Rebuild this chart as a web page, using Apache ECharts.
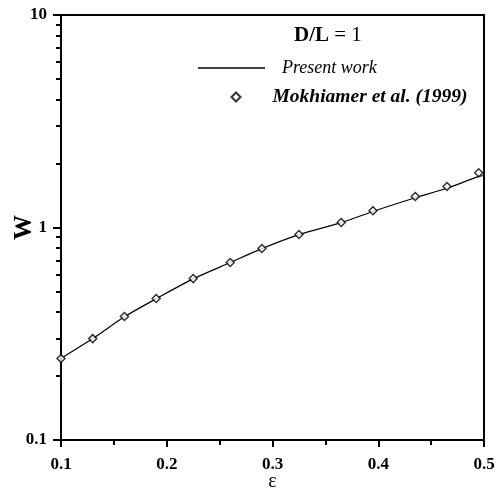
<!DOCTYPE html>
<html><head><meta charset="utf-8">
<script src="https://cdn.jsdelivr.net/npm/echarts@6/dist/echarts.min.js"></script>
<style>html,body{margin:0;padding:0;background:#fff}#c{width:501px;height:495px}</style>
</head><body><div id="c"></div>
<script>
// Present work (curve)
const lineEps = [0.1, 0.13, 0.16, 0.19, 0.225, 0.26, 0.29, 0.325, 0.365, 0.395, 0.435, 0.465, 0.495, 0.5];
const lineW   = [0.242, 0.30, 0.38, 0.462, 0.573, 0.684, 0.795, 0.925, 1.055, 1.19, 1.38, 1.53, 1.74, 1.757];
// Mokhiamer et al. (1999) (markers)
const refEps = [0.1, 0.13, 0.16, 0.19, 0.225, 0.26, 0.29, 0.325, 0.365, 0.395, 0.435, 0.465, 0.495];
const refW   = [0.242, 0.30, 0.381, 0.463, 0.575, 0.684, 0.797, 0.927, 1.056, 1.20, 1.40, 1.56, 1.81];
const xTicks = [0.1, 0.2, 0.3, 0.4, 0.5];
const yMinorTicks = [0.2,0.3,0.4,0.5,0.6,0.7,0.8,0.9,2,3,4,5,6,7,8,9];

const FONT = '"Liberation Serif", "Times New Roman", serif';
const chart = echarts.init(document.getElementById('c'), null, {renderer:'canvas'});
chart.setOption({
  animation: false,
  backgroundColor: '#fff',
  title: {
    text: '{b|D/L} = 1', left: 289, top: 20,
    textStyle: {fontFamily: FONT, fontSize: 21, fontWeight: 'normal', color: '#000',
      rich: {b: {fontFamily: FONT, fontSize: 21, fontWeight: 'bold', color: '#000'}}}
  },
  legend: [{
    orient: 'vertical', left: 193, top: 54,
    itemWidth: 67, itemHeight: 1.5, icon: 'rect',
    data: [{name: 'Present work', textStyle: {fontStyle: 'italic', fontWeight: 'normal', padding: [0,0,0,12]}}],
    textStyle: {fontFamily: FONT, fontSize: 18, color: '#000'}
  }, {
    orient: 'vertical', left: 225.5, top: 82,
    itemWidth: 9, itemHeight: 9, icon: 'diamond',
    data: [{name: 'Mokhiamer et al. (1999)', textStyle: {fontStyle: 'italic', fontWeight: 'bold', padding: [0,0,0,27]}}],
    textStyle: {fontFamily: FONT, fontSize: 19.5, color: '#000'}
  }],
  grid: {left: 61, top: 15, width: 423, height: 425, show: true, borderColor: '#000', borderWidth: 2,
    containLabel: false, outerBoundsMode: 'none'},
  xAxis: {
    type: 'value', min: 0.1, max: 0.5, interval: 0.1,
    name: 'ε', nameLocation: 'middle', nameGap: 32, nameMoveOverlap: false,
    nameTextStyle: {fontFamily: FONT, fontSize: 20, color: '#000'},
    axisLine: {show: true, lineStyle: {color: '#000', width: 2}},
    axisTick: {show: true, length: 7, lineStyle: {color: '#000', width: 2}},
    minorTick: {show: true, splitNumber: 2, length: 5, lineStyle: {color: '#000', width: 2}},
    splitLine: {show: false},
    axisLabel: {margin: 16, fontFamily: FONT, fontSize: 17, fontWeight: 'bold', color: '#000',
      formatter: v => { const t = xTicks.find(x => Math.abs(x - v) < 1e-9); return t === undefined ? '' : t.toFixed(1); }}
  },
  yAxis: [{
    type: 'log', logBase: 10, min: 0.1, max: 10,
    name: 'W', nameLocation: 'middle', nameGap: 24, nameRotate: 90, nameMoveOverlap: false,
    nameTextStyle: {fontFamily: FONT, fontSize: 25, fontWeight: 'bold', color: '#000'},
    axisLine: {show: true, lineStyle: {color: '#000', width: 2}},
    axisTick: {show: true, length: 8, lineStyle: {color: '#000', width: 2}},
    splitLine: {show: false},
    axisLabel: {margin: 14, fontFamily: FONT, fontSize: 17, fontWeight: 'bold', color: '#000',
      formatter: v => String(+v.toPrecision(3))}
  }, {
    type: 'log', logBase: 10, min: 0.1, max: 10, position: 'left',
    axisLine: {show: false},
    axisLabel: {show: false},
    splitLine: {show: false},
    axisTick: {show: true, length: 5, customValues: yMinorTicks, lineStyle: {color: '#000', width: 2}}
  }],
  series: [{
    name: 'Present work', type: 'line', smooth: 0.3, symbol: 'none',
    lineStyle: {color: '#000', width: 1.2},
    itemStyle: {color: '#000'},
    data: lineEps.map((x, i) => [x, lineW[i]])
  }, {
    name: 'Mokhiamer et al. (1999)', type: 'scatter', symbol: 'diamond', symbolSize: 8,
    itemStyle: {color: '#fff', borderColor: '#000', borderWidth: 1.5},
    data: refEps.map((x, i) => [x, refW[i]]), z: 5
  }]
});
</script></body></html>
